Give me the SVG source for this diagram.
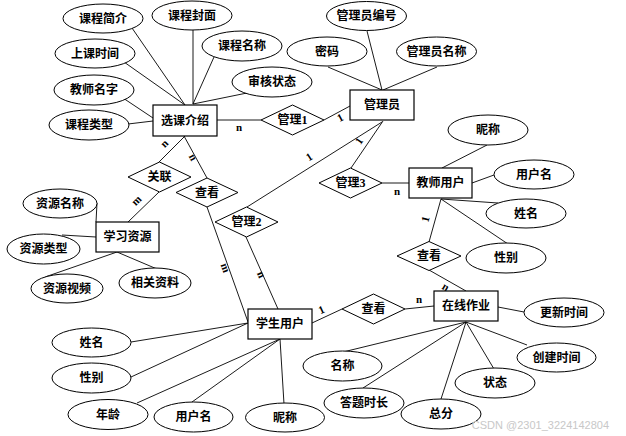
<svg xmlns="http://www.w3.org/2000/svg" width="626" height="436" viewBox="0 0 626 436">
<style>
.bg{fill:#fff}
.e,.r,.d{fill:#fff;stroke:#000;stroke-width:1}
.r{stroke-width:1.2}
.ln line{stroke:#000;stroke-width:0.9}
.t{font-family:"Noto Sans CJK SC","Liberation Sans",sans-serif;font-size:12px;font-weight:bold;fill:#000;text-anchor:middle}
.num{font-family:"Liberation Serif",serif;font-weight:bold}
.c{font-family:"Liberation Serif",serif;font-size:11px;font-weight:bold;fill:#000;text-anchor:middle}
.wm{font-family:"Liberation Sans",sans-serif;font-size:11px;fill:#c8c8c8;text-anchor:end}
</style>
<rect class="bg" x="0" y="0" width="626" height="436"/>
<g id="connectors" class="ln">
<line x1="132" y1="28" x2="185" y2="105"/>
<line x1="193" y1="30" x2="193" y2="104"/>
<line x1="214" y1="57" x2="193" y2="104"/>
<line x1="247" y1="93" x2="193" y2="104"/>
<line x1="124" y1="62" x2="185" y2="105"/>
<line x1="123" y1="98" x2="153" y2="118"/>
<line x1="128" y1="124" x2="153" y2="121"/>
<line x1="217" y1="120" x2="261" y2="120"/>
<line x1="185" y1="136" x2="159" y2="162"/>
<line x1="184" y1="136" x2="207" y2="178"/>
<line x1="367" y1="31" x2="382" y2="90"/>
<line x1="328" y1="67" x2="382" y2="90"/>
<line x1="437" y1="67" x2="383" y2="90"/>
<line x1="324" y1="120" x2="350" y2="106"/>
<line x1="383" y1="121" x2="351" y2="168"/>
<line x1="382" y1="122" x2="247" y2="207"/>
<line x1="382" y1="183" x2="409" y2="183"/>
<line x1="487" y1="145" x2="442" y2="168"/>
<line x1="494" y1="175" x2="472" y2="183"/>
<line x1="441" y1="199" x2="498" y2="203"/>
<line x1="441" y1="199" x2="508" y2="244"/>
<line x1="441" y1="199" x2="429" y2="242"/>
<line x1="429" y1="270" x2="466" y2="291"/>
<line x1="159" y1="192" x2="128" y2="222"/>
<line x1="97" y1="203" x2="96" y2="222"/>
<line x1="62" y1="235" x2="96" y2="237"/>
<line x1="117" y1="252" x2="45" y2="277"/>
<line x1="117" y1="252" x2="157" y2="269"/>
<line x1="246" y1="237" x2="278" y2="309"/>
<line x1="207" y1="207" x2="248" y2="322"/>
<line x1="131" y1="342" x2="248" y2="323"/>
<line x1="131" y1="377" x2="248" y2="323"/>
<line x1="137" y1="403" x2="280" y2="339"/>
<line x1="192" y1="402" x2="280" y2="339"/>
<line x1="284" y1="404" x2="280" y2="339"/>
<line x1="312" y1="323" x2="342" y2="309"/>
<line x1="405" y1="309" x2="434" y2="306"/>
<line x1="498" y1="307" x2="524" y2="312"/>
<line x1="466" y1="322" x2="527" y2="345"/>
<line x1="466" y1="322" x2="494" y2="369"/>
<line x1="466" y1="322" x2="441" y2="399"/>
<line x1="466" y1="322" x2="363" y2="388"/>
<line x1="466" y1="322" x2="343" y2="352"/>
<text class="c" x="239" y="131">n</text>
<text class="c" transform="translate(167,146) rotate(-45)">n</text>
<text class="c" transform="translate(190,159) rotate(62)">n</text>
<text class="c" transform="translate(139,203) rotate(-45)">m</text>
<text class="c" transform="translate(342,121) rotate(-28)">1</text>
<text class="c" transform="translate(362,143) rotate(-56)">1</text>
<text class="c" transform="translate(311,160) rotate(-32)">1</text>
<text class="c" x="397" y="195">n</text>
<text class="c" transform="translate(429,220) rotate(-75)">1</text>
<text class="c" transform="translate(444,290) rotate(30)">n</text>
<text class="c" x="419" y="303">n</text>
<text class="c" transform="translate(323,313) rotate(-25)">1</text>
<text class="c" transform="translate(222,269) rotate(70)">m</text>
<text class="c" transform="translate(258,276) rotate(66)">n</text>
</g>
<g id="xuankejieshao"><rect class="r" x="153" y="105" width="64" height="31"/><text class="t" x="185" y="124.5">选课介绍</text></g>
<g id="guanliyuan"><rect class="r" x="350" y="90" width="64" height="30"/><text class="t" x="382" y="109">管理员</text></g>
<g id="jiaoshiyonghu"><rect class="r" x="409" y="168" width="63" height="30"/><text class="t" x="440.5" y="187">教师用户</text></g>
<g id="xuexiziyuan"><rect class="r" x="96" y="222" width="63" height="30"/><text class="t" x="127.5" y="241">学习资源</text></g>
<g id="xueshengyonghu"><rect class="r" x="248" y="309" width="64" height="30"/><text class="t" x="280" y="328">学生用户</text></g>
<g id="zaixianzuoye"><rect class="r" x="434" y="291" width="64" height="30"/><text class="t" x="466" y="310">在线作业</text></g>
<g id="guanli1"><polygon class="d" points="261,120 292.5,105 324,120 292.5,135"/><text class="t" x="292.5" y="124">管理<tspan class="num">1</tspan></text></g>
<g id="guanlian"><polygon class="d" points="128,177 159.5,162 191,177 159.5,192"/><text class="t" x="159.5" y="181">关联</text></g>
<g id="chakan1"><polygon class="d" points="176,192.5 207,178 238,192.5 207,207"/><text class="t" x="207" y="196.5">查看</text></g>
<g id="guanli2"><polygon class="d" points="215,222 246.5,207 278,222 246.5,237"/><text class="t" x="246.5" y="226">管理<tspan class="num">2</tspan></text></g>
<g id="guanli3"><polygon class="d" points="319,183 350.5,168 382,183 350.5,198"/><text class="t" x="350.5" y="187">管理<tspan class="num">3</tspan></text></g>
<g id="chakan2"><polygon class="d" points="397,256 429,241.5 461,256 429,270.5"/><text class="t" x="429" y="260">查看</text></g>
<g id="chakan3"><polygon class="d" points="342,309 373.5,294 405,309 373.5,324"/><text class="t" x="373.5" y="313">查看</text></g>
<g id="a-kechengjianjie"><ellipse class="e" cx="103" cy="18.5" rx="40" ry="14.5"/><text class="t" x="103" y="22.5">课程简介</text></g>
<g id="a-kechengfengmian"><ellipse class="e" cx="192" cy="15.5" rx="40" ry="14.5"/><text class="t" x="192" y="19.5">课程封面</text></g>
<g id="a-kechengmingcheng"><ellipse class="e" cx="242" cy="46" rx="40" ry="15"/><text class="t" x="242" y="50">课程名称</text></g>
<g id="a-shangkeshijian"><ellipse class="e" cx="95" cy="53.5" rx="40" ry="14.5"/><text class="t" x="95" y="57.5">上课时间</text></g>
<g id="a-shenhezhuangtai"><ellipse class="e" cx="272" cy="82" rx="40" ry="15"/><text class="t" x="272" y="86">审核状态</text></g>
<g id="a-jiaoshimingzi"><ellipse class="e" cx="94" cy="90" rx="40" ry="15"/><text class="t" x="94" y="94">教师名字</text></g>
<g id="a-kechengleixing"><ellipse class="e" cx="89" cy="125" rx="40" ry="15"/><text class="t" x="89" y="129">课程类型</text></g>
<g id="a-guanliyuanbianhao"><ellipse class="e" cx="366.5" cy="16" rx="40" ry="14.5"/><text class="t" x="366.5" y="20">管理员编号</text></g>
<g id="a-mima"><ellipse class="e" cx="327" cy="51.5" rx="40" ry="14.5"/><text class="t" x="327" y="55.5">密码</text></g>
<g id="a-guanliyuanmingcheng"><ellipse class="e" cx="436.5" cy="51.5" rx="40" ry="14.5"/><text class="t" x="436.5" y="55.5">管理员名称</text></g>
<g id="a-t-nicheng"><ellipse class="e" cx="488" cy="130" rx="40" ry="15"/><text class="t" x="488" y="134">昵称</text></g>
<g id="a-t-yonghuming"><ellipse class="e" cx="534" cy="174.5" rx="40" ry="14.5"/><text class="t" x="534" y="178.5">用户名</text></g>
<g id="a-t-xingming"><ellipse class="e" cx="526" cy="213.5" rx="40" ry="14.5"/><text class="t" x="526" y="217.5">姓名</text></g>
<g id="a-t-xingbie"><ellipse class="e" cx="506" cy="258" rx="40" ry="15"/><text class="t" x="506" y="262">性别</text></g>
<g id="a-gengxinshijian"><ellipse class="e" cx="564" cy="312.5" rx="40" ry="14.5"/><text class="t" x="564" y="316.5">更新时间</text></g>
<g id="a-chuangjianshijian"><ellipse class="e" cx="556.5" cy="357.5" rx="39.5" ry="14.5"/><text class="t" x="556.5" y="361.5">创建时间</text></g>
<g id="a-zhuangtai"><ellipse class="e" cx="495" cy="383" rx="40" ry="15"/><text class="t" x="495" y="387">状态</text></g>
<g id="a-zongfen"><ellipse class="e" cx="441" cy="414" rx="40" ry="15"/><text class="t" x="441" y="418">总分</text></g>
<g id="a-datishichang"><ellipse class="e" cx="364" cy="403" rx="40" ry="15"/><text class="t" x="364" y="407">答题时长</text></g>
<g id="a-mingcheng"><ellipse class="e" cx="342.5" cy="366" rx="39.5" ry="15"/><text class="t" x="342.5" y="370">名称</text></g>
<g id="a-ziyuanmingcheng"><ellipse class="e" cx="60" cy="203.5" rx="37" ry="14.5"/><text class="t" x="60" y="207.5">资源名称</text></g>
<g id="a-ziyuanleixing"><ellipse class="e" cx="43.5" cy="249" rx="36.5" ry="15"/><text class="t" x="43.5" y="253">资源类型</text></g>
<g id="a-ziyuanshipin"><ellipse class="e" cx="67" cy="288.5" rx="36" ry="14.5"/><text class="t" x="67" y="292.5">资源视频</text></g>
<g id="a-xiangguanziliao"><ellipse class="e" cx="155" cy="283" rx="36" ry="15"/><text class="t" x="155" y="287">相关资料</text></g>
<g id="a-s-xingming"><ellipse class="e" cx="91.5" cy="342.5" rx="39.5" ry="14.5"/><text class="t" x="91.5" y="346.5">姓名</text></g>
<g id="a-s-xingbie"><ellipse class="e" cx="91.5" cy="378" rx="39.5" ry="15"/><text class="t" x="91.5" y="382">性别</text></g>
<g id="a-s-nianling"><ellipse class="e" cx="108" cy="414.5" rx="40" ry="15"/><text class="t" x="108" y="418.5">年龄</text></g>
<g id="a-s-yonghuming"><ellipse class="e" cx="193.5" cy="417" rx="39.5" ry="15"/><text class="t" x="193.5" y="421">用户名</text></g>
<g id="a-s-nicheng"><ellipse class="e" cx="285" cy="417.5" rx="39.5" ry="14.5"/><text class="t" x="285" y="421.5">昵称</text></g>
<text class="wm" x="609" y="429">CSDN @2301_3224142804</text>
</svg>
